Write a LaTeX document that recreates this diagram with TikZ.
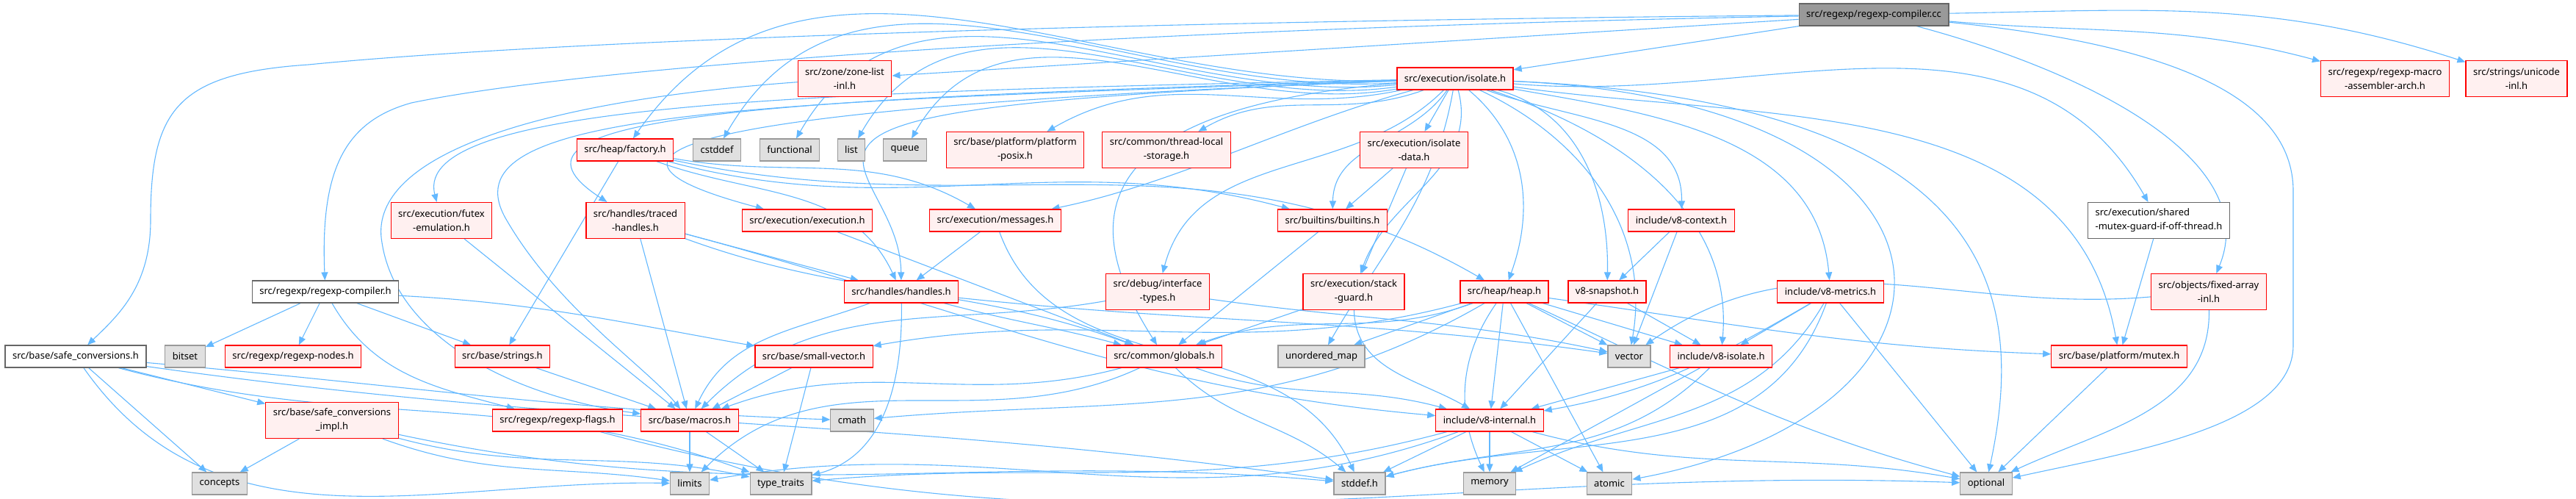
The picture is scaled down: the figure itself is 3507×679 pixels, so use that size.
\documentclass[tikz,border=0pt]{standalone}
\usepackage{fontspec}
\setmainfont{Noto Sans}
\usetikzlibrary{arrows.meta, backgrounds}
\definecolor{cedge}{HTML}{63B8FF}
\definecolor{cred}{HTML}{FF0000}
\definecolor{cpink}{HTML}{FFF0F0}
\definecolor{csys}{HTML}{E0E0E0}
\definecolor{csysline}{HTML}{999999}
\definecolor{cdoc}{HTML}{666666}
\definecolor{croot}{HTML}{999999}
\tikzset{
  every picture/.style={line width=0.24pt},
  hdr/.style={draw=#1, rectangle, align=center, inner xsep=2pt, inner ysep=0pt, minimum height=6pt, font=\fontsize{2.6}{3.8}\selectfont, text=black},
  incl/.style={hdr=cred, fill=cpink},
  sys/.style={hdr=csysline, fill=csys},
  doc/.style={hdr=cdoc, fill=white},
  rootnode/.style={hdr=cdoc, fill=croot},
  two/.style={minimum height=9.8pt},
  dep/.style={draw=cedge, line width=0.22pt, -{Triangle[length=2.2pt,width=1.8pt]}},
}

\begin{document}
\begin{tikzpicture}[x=0.2pt, y=-0.2pt]
  \useasboundingbox (0,0) rectangle (3507,679);
  \node[rootnode] (rcc) at (2551,20) {src/regexp/regexp-compiler.cc};
  \node[incl,two] (zonelist) at (1150,107) {src/zone/zone-list\\-inl.h};
  \node[incl] (isolate) at (1981,107) {src/execution/isolate.h};
  \node[incl,two] (macroasm) at (3247,107) {src/regexp/regexp-macro\\-assembler-arch.h};
  \node[incl,two] (unicode) at (3426,107) {src/strings/unicode\\-inl.h};

  \node[incl] (factory) at (851,204) {src/heap/factory.h};
  \foreach \n/\x in {cstddef/976, functional/1075, list/1159, queue/1232}
    \node[sys] (\n) at (\x,204) {\n};
  \node[incl,two] (posix) at (1382,204) {src/base/platform/platform\\-posix.h};
  \node[incl,two] (tls) at (1588,204) {src/common/thread-local\\-storage.h};
  \node[incl,two] (isodata) at (1925,204) {src/execution/isolate\\-data.h};

  \node[incl,two] (futex) at (601,300) {src/execution/futex\\-emulation.h};
  \node[incl,two] (traced) at (865,300) {src/handles/traced\\-handles.h};
  \node[incl] (execution) at (1099,300) {src/execution/execution.h};
  \node[incl] (messages) at (1355,300) {src/execution/messages.h};
  \node[incl] (builtins) at (1814,300) {src/builtins/builtins.h};
  \node[incl] (v8context) at (2289,300) {include/v8-context.h};
  \node[doc,two,align=left] (sharedmutex) at (2939,300) {src/execution/shared\\-mutex-guard-if-off-thread.h};

  \node[doc] (rch) at (443,397) {src/regexp/regexp-compiler.h};
  \node[incl] (handles) at (1227,397) {src/handles/handles.h};
  \node[incl,two] (interface) at (1576,397) {src/debug/interface\\-types.h};
  \node[incl,two] (stackguard) at (1843,397) {src/execution/stack\\-guard.h};
  \node[incl] (heap) at (2048,397) {src/heap/heap.h};
  \node[incl] (snapshot) at (2188,397) {v8-snapshot.h};
  \node[incl] (metrics) at (2492,397) {include/v8-metrics.h};
  \node[incl,two] (fixedarray) at (3007,397) {src/objects/fixed-array\\-inl.h};

  \node[doc] (safeconv) at (103,485) {src/base/safe\_conversions.h};
  \node[sys] (bitset) at (252,485) {bitset};
  \node[incl] (nodes) at (399,485) {src/regexp/regexp-nodes.h};
  \node[incl] (strings) at (684,485) {src/base/strings.h};
  \node[incl] (smallvector) at (1108,485) {src/base/small-vector.h};
  \node[incl] (globals) at (1585,485) {src/common/globals.h};
  \node[sys] (umap) at (1799,485) {unordered\_map};
  \node[sys] (vector) at (2218,485) {vector};
  \node[incl] (v8isolate) at (2343,485) {include/v8-isolate.h};
  \node[incl] (mutex) at (2885,485) {src/base/platform/mutex.h};

  \node[incl,two] (impl) at (452,572) {src/base/safe\_conversions\\\_impl.h};
  \node[incl] (flags) at (759,572) {src/regexp/regexp-flags.h};
  \node[incl] (macros) at (939,572) {src/base/macros.h};
  \node[sys] (cmath) at (1160,572) {cmath};
  \node[incl] (v8internal) at (2028,572) {include/v8-internal.h};

  \foreach \n/\x/\t in {concepts/299/concepts, limits/939/limits, typetraits/1063/type\_traits, stddef/1851/stddef.h, memory/2028/memory, atomic/2191/atomic, optional/2704/optional}
    \node[sys] (\n) at (\x,658) {\t};

  \begin{scope}[on background layer]
  \foreach \s/\t in {rcc/zonelist, rcc/isolate, isolate/isodata, isodata/builtins, isodata/stackguard, futex/macros, traced/macros, traced/handles, execution/globals, messages/handles, builtins/globals, v8context/snapshot, v8context/vector, sharedmutex/mutex, factory/strings, rch/bitset, rch/nodes, strings/macros, smallvector/macros, smallvector/typetraits, stackguard/globals, heap/umap, heap/v8internal, heap/atomic, heap/vector, heap/v8isolate, snapshot/v8internal, snapshot/v8isolate, metrics/v8isolate, metrics/optional, v8isolate/v8internal, v8isolate/memory, mutex/optional, v8internal/stddef, v8internal/memory, v8internal/atomic, macros/limits, macros/typetraits, safeconv/concepts, safeconv/impl, impl/concepts}
    \draw[dep] (\s) -- (\t);

  \foreach \s/\t/\o/\i in {rcc/macroasm/-5/165, rcc/unicode/1/162, isolate/factory/182/55, isolate/cstddef/184/60, isolate/functional/186/60, isolate/list/188/60, isolate/queue/190/60, isolate/posix/192/30, isolate/tls/200/30, isolate/builtins/235/89, isolate/v8context/-20/89, isolate/sharedmutex/-5/120, isolate/interface/225/75, isolate/stackguard/-75/70, isolate/heap/-40/70, isolate/snapshot/-15/89, isolate/metrics/-10/95, isolate/umap/-100/60, isolate/vector/-25/80, isolate/v8isolate/-18/85, isolate/mutex/-8/100, traced/globals/-20/160, traced/v8internal/-15/175, factory/builtins/-15/165, factory/heap/-12/150, factory/handles/-20/115, factory/messages/-10/150, messages/stddef/-70/115, rch/strings/-20/160, rch/smallvector/-3/170, rch/flags/-60/165, handles/macros/200/65, handles/globals/-15/165, handles/typetraits/-89/15, handles/vector/-6/172, interface/macros/190/45, interface/vector/-8/168, stackguard/v8internal/-89/150, heap/smallvector/195/10, heap/globals/200/20, heap/cmath/210/5, heap/memory/235/115, heap/mutex/-8/178, heap/optional/-25/165, metrics/v8internal/210/10, metrics/memory/240/25, metrics/stddef/250/15, v8isolate/stddef/225/15, fixedarray/vector/185/35, fixedarray/optional/-89/25, globals/v8internal/-20/165, globals/macros/195/20, globals/stddef/-45/140, globals/limits/205/45, v8internal/limits/200/10, v8internal/typetraits/195/5, v8internal/optional/-15/170, safeconv/limits/-55/179, safeconv/typetraits/-15/160, safeconv/cmath/-5/178, safeconv/stddef/-8/172, impl/limits/-20/172, impl/typetraits/-15/168, impl/stddef/-12/175, flags/optional/-15/178}
    \draw[dep] (\s) to[out=\o, in=\i] (\t);

  \draw[dep] (rcc) .. controls (1400,30) and (700,60) .. (420,88) .. controls (240,100) and (205,150) .. (205,300) .. controls (205,390) and (160,430) .. (safeconv);
  \draw[dep] (rcc) .. controls (1500,40) and (800,90) .. (560,140) .. controls (470,165) and (436,230) .. (rch);
  \draw[dep] (rcc) .. controls (2850,100) and (3080,220) .. (fixedarray);
  \draw[dep] (rcc) .. controls (2950,60) and (3122,130) .. (3122,260) -- (3122,470) .. controls (3122,580) and (2900,615) .. (optional);
  \draw[dep] (isolate) .. controls (1100,125) and (560,140) .. (futex);
  \draw[dep] (isolate) .. controls (1000,135) and (650,160) .. (traced);
  \draw[dep] (isolate) .. controls (1000,145) and (720,200) .. (execution);
  \draw[dep] (isolate) .. controls (1750,170) and (1600,250) .. (messages);
  \draw[dep] (isolate) .. controls (900,150) and (1225,200) .. (handles);
  \draw[dep] (isolate) .. controls (1000,140) and (600,150) .. (690,300) .. controls (760,420) and (880,500) .. (macros);
  \draw[dep] (isolate) .. controls (1450,150) and (1480,320) .. (globals);
  \draw[dep] (isolate) .. controls (2720,140) and (2720,560) .. (atomic);
  \draw[dep] (isolate) .. controls (2740,140) and (2755,420) .. (optional);
  \draw[dep] (zonelist) .. controls (700,140) and (500,220) .. (520,330) .. controls (540,460) and (700,540) .. (macros);
  \end{scope}
\end{tikzpicture}
\end{document}
